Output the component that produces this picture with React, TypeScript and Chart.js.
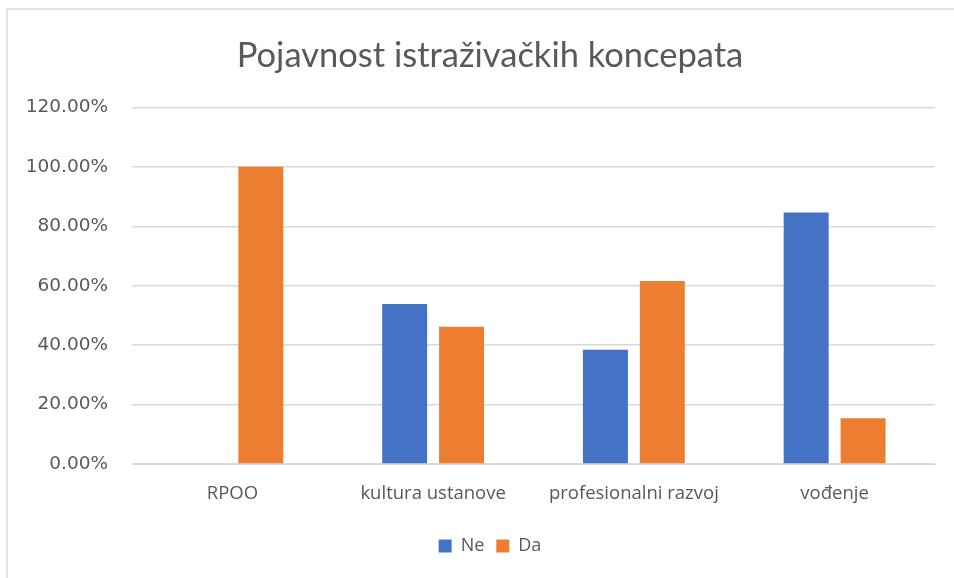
import React, { useEffect, useRef } from "react";
import { Chart, registerables } from "chart.js";

Chart.register(...registerables);

const categories = ["RPOO", "kultura ustanove", "profesionalni razvoj", "vođenje"];
const neValues = [0, 53.85, 38.46, 84.62];
const daValues = [100, 46.15, 61.54, 15.38];
const seriesNames = ["Ne", "Da"];
const titleText = "Pojavnost istraživačkih koncepata";

const BLUE = "#4472C4";
const ORANGE = "#ED7D31";
const TEXT = "#595959";
const FONT = "'Open Sans', 'Noto Sans', sans-serif";

export default function App() {
  const ref = useRef<HTMLCanvasElement | null>(null);

  useEffect(() => {
    document.body.style.margin = "0";
    document.body.style.overflow = "hidden";
    const chart = new Chart(ref.current!, {
      type: "bar",
      data: {
        labels: categories,
        datasets: [
          { label: seriesNames[0], data: neValues, backgroundColor: BLUE, borderWidth: 0 },
          { label: seriesNames[1], data: daValues, backgroundColor: ORANGE, borderWidth: 0 },
        ],
      },
      options: {
        animation: false,
        responsive: false,
        maintainAspectRatio: false,
        layout: { padding: { left: 45, right: 45, top: 0, bottom: 13 } },
        datasets: {
          bar: { categoryPercentage: 0.567, barPercentage: 0.79 },
        },
        scales: {
          x: {
            grid: { display: false },
            border: { display: true, color: "#d9d9d9", width: 1 },
            ticks: {
              color: TEXT,
              font: { family: FONT, size: 18.5 },
              padding: 11,
              maxRotation: 0,
              autoSkip: false,
            },
            afterFit: (s: any) => {
              s.height = 61;
            },
          },
          y: {
            min: 0,
            max: 120,
            grid: { color: "#d9d9d9", lineWidth: 1.5, drawTicks: false },
            border: { display: false },
            ticks: {
              stepSize: 20,
              color: TEXT,
              font: { family: "'DejaVu Sans', sans-serif", size: 18.5 },
              padding: 24,
              callback: (v: any) => Number(v).toFixed(2) + "%",
            },
            afterFit: (s: any) => {
              s.width = 87;
              s._computeLabelArea = () => undefined;
            },
          },
        },
        plugins: {
          title: {
            display: true,
            text: titleText,
            color: TEXT,
            font: { family: "'Lato', sans-serif", size: 34.5, weight: "normal", lineHeight: 1.2 },
            padding: { top: 35, bottom: 31 },
          },
          legend: {
            display: true,
            position: "bottom",
            labels: {
              color: TEXT,
              font: { family: FONT, size: 18 },
              boxWidth: 13,
              boxHeight: 13,
              padding: 12,
            },
          },
          tooltip: { enabled: false },
        },
      },
    });
    return () => chart.destroy();
  }, []);

  return (
    <div style={{ position: "relative", width: 954, height: 578, overflow: "hidden", background: "#fff" }}>
      <div
        style={{
          position: "absolute",
          left: 6,
          top: 8,
          width: 960,
          height: 580,
          borderTop: "2px solid #e3e3e3",
          borderLeft: "2px solid #e3e3e3",
          boxSizing: "border-box",
        }}
      />
      <canvas
        ref={ref}
        width={980}
        height={578}
        style={{ position: "absolute", left: 0, top: 0, width: 980, height: 578 }}
      />
    </div>
  );
}
